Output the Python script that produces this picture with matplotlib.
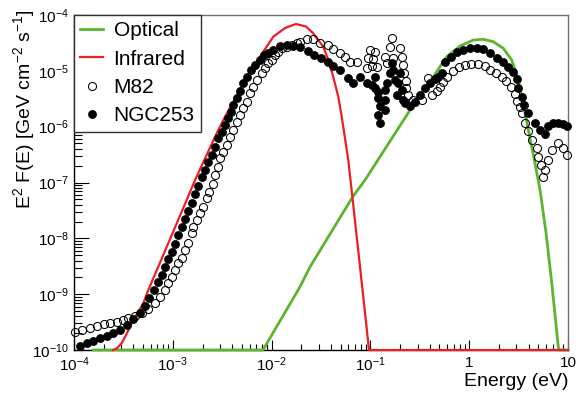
import numpy as np
import matplotlib
matplotlib.use('Agg')
import matplotlib.pyplot as plt
from matplotlib.ticker import FixedLocator, FixedFormatter, LogLocator, NullFormatter

plt.rcParams['font.family'] = ['Liberation Sans', 'DejaVu Sans']
plt.rcParams['mathtext.fontset'] = 'custom'
plt.rcParams['mathtext.rm'] = 'Liberation Sans'
plt.rcParams['mathtext.it'] = 'Liberation Sans:italic'
plt.rcParams['mathtext.bf'] = 'Liberation Sans:bold'
plt.rcParams['mathtext.default'] = 'regular'

# ---- data (log10 of energy in eV, log10 of E^2 F(E) in GeV cm^-2 s^-1) ----
optical_logE = [-3.805, -2.087, -1.713, -1.611, -1.179, -1.055, -0.599, -0.531, -0.363, -0.228,
                -0.093, 0.042, 0.143, 0.244, 0.345, 0.43, 0.484, 0.534, 0.595, 0.656, 0.717,
                0.777, 0.838, 0.902, 0.909, 1.0]
optical_logF = [-10, -10, -8.869, -8.511, -7.256, -6.957, -5.703, -5.493, -5.106, -4.747,
                -4.556, -4.448, -4.435, -4.478, -4.597, -4.806, -5.093, -5.47, -6.025, -6.563,
                -7.136, -7.889, -8.839, -9.95, -10, -10]

infrared_logE = [-3.605, -3.565, -3.517, -3.464, -3.40, -3.30, -3.248, -2.86, -2.775, -2.556,
                 -2.489, -2.252, -1.983, -1.864, -1.753, -1.652, -1.578, -1.477, -1.426, -1.376,
                 -1.325, -1.29, -1.224, -1.179, -1.105, -1.021, -1.014, 1.0]
infrared_logF = [-10.0, -9.968, -9.878, -9.699, -9.466, -9.167, -8.928, -7.315, -6.957, -6.12,
                 -5.882, -5.106, -4.389, -4.233, -4.161, -4.206, -4.33, -4.568, -4.806, -5.106,
                 -5.464, -5.823, -6.599, -7.315, -8.511, -9.884, -10.0, -10.0]

m82_logE = [-3.99, -3.92, -3.84, -3.77, -3.70, -3.636, -3.568, -3.50, -3.45, -3.383,
            -3.315, -3.248, -3.18, -3.13, -3.079, -3.046, -3.011, -2.978, -2.944, -2.91,
            -2.877, -2.843, -2.809, -2.793, -2.758, -2.725, -2.691, -2.657, -2.631, -2.596,
            -2.573, -2.54, -2.522, -2.489, -2.454, -2.421, -2.388, -2.353, -2.32, -2.293,
            -2.252, -2.219, -2.185, -2.151, -2.10, -2.067, -2.033, -1.999, -1.966, -1.932,
            -1.898, -1.847, -1.797, -1.746, -1.713, -1.645, -1.578, -1.51, -1.426, -1.376,
            -1.308, -1.257, -1.207, -1.139,
            -1.037, -1.021, -1.004, -0.987, -0.971, -0.953, -0.936, -0.852, -0.835, -0.80,
            -0.784, -0.767, -0.70, -0.683, -0.667, -0.655, -0.64, -0.635, -0.616, -0.566,
            -0.481, -0.414, -0.38, -0.329, -0.296, -0.262, -0.22, -0.164, -0.108, -0.042,
            0.023, 0.089, 0.155, 0.211, 0.271, 0.329, 0.372, 0.423, 0.459, 0.484,
            0.514, 0.531, 0.565, 0.598, 0.633, 0.691, 0.70, 0.722, 0.767, 0.75,
            0.80, 0.835, 0.902, 0.952, 0.987]
m82_logF = [-9.68, -9.65, -9.60, -9.57, -9.54, -9.525, -9.50, -9.466, -9.435, -9.394,
            -9.346, -9.265, -9.167, -9.048, -8.928, -8.808, -8.69, -8.57, -8.45, -8.36,
            -8.21, -8.09, -7.91, -7.79, -7.67, -7.55, -7.435, -7.285, -7.167, -7.03,
            -6.867, -6.72, -6.568, -6.45, -6.33, -6.18, -6.06, -5.91, -5.79, -5.67,
            -5.554, -5.403, -5.285, -5.165, -5.045, -4.955, -4.866, -4.806, -4.717, -4.658,
            -4.597, -4.568, -4.538, -4.496, -4.478, -4.435, -4.435, -4.496, -4.538, -4.615,
            -4.686, -4.747, -4.837, -4.837,
            -4.955, -4.776, -4.633, -4.914, -4.794, -4.668, -4.927, -4.747, -4.866, -4.568,
            -4.407, -4.776, -4.597, -4.747, -4.896, -5.039, -5.183, -5.308, -5.434, -5.523,
            -5.523, -5.134, -5.434, -5.362, -5.285, -5.195, -5.106, -5.004, -4.932, -4.896,
            -4.878, -4.878, -4.914, -4.986, -5.045, -5.106, -5.183, -5.29, -5.416, -5.541,
            -5.649, -5.762, -5.941, -6.079, -6.24, -6.389, -6.54, -6.688, -6.778, -6.898,
            -6.599, -6.419, -6.30, -6.375, -6.509]

ngc253_logE = [-3.939, -3.865, -3.805, -3.737, -3.669, -3.602, -3.534, -3.467, -3.40, -3.332,
               -3.281, -3.236, -3.19, -3.147, -3.112, -3.079, -3.046, -3.011, -2.978, -2.944,
               -2.91, -2.877, -2.843, -2.809, -2.775, -2.745, -2.707, -2.674, -2.641, -2.606,
               -2.573, -2.54, -2.505, -2.472, -2.438, -2.411, -2.388, -2.347, -2.32, -2.286,
               -2.246, -2.212, -2.168, -2.117, -2.077, -2.033, -1.981, -1.915, -1.847, -1.78,
               -1.713, -1.629, -1.571, -1.5, -1.429, -1.376, -1.308, -1.224, -1.173, -1.105,
               -1.037, -0.987, -0.953, -0.953, -0.92, -0.92, -0.903, -0.852, -0.852, -0.92,
               -0.903, -0.852, -0.835, -0.80, -0.784, -0.768, -0.751, -0.70, -0.718, -0.734,
               -0.683, -0.667, -0.65, -0.599, -0.549, -0.498, -0.447, -0.397, -0.346, -0.311,
               -0.278, -0.245, -0.189, -0.127, -0.06, 0.008, 0.076, 0.143, 0.211, 0.278,
               0.345, 0.396, 0.446, 0.481, 0.497, 0.531, 0.555, 0.598, 0.666, 0.717,
               0.767, 0.80, 0.851, 0.902, 0.952, 0.987]
ngc253_logF = [-9.927, -9.866, -9.837, -9.794, -9.753, -9.699, -9.636, -9.556, -9.453, -9.332,
               -9.215, -9.077, -8.928, -8.78, -8.66, -8.522, -8.378, -8.242, -8.104, -7.943,
               -7.794, -7.661, -7.507, -7.375, -7.208, -7.056, -6.898, -6.778, -6.629, -6.509,
               -6.36, -6.21, -6.091, -5.971, -5.851, -5.733, -5.613, -5.493, -5.357, -5.224,
               -5.106, -4.986, -4.896, -4.806, -4.717, -4.686, -4.627, -4.556, -4.538, -4.547,
               -4.568, -4.651, -4.711, -4.771, -4.837, -4.905, -4.986, -5.134, -5.219, -5.102,
               -5.21, -5.254, -5.111, -5.314, -5.375, -5.493, -5.631, -5.523, -5.703, -5.792,
               -5.93, -5.344, -5.224, -5.045, -4.866, -4.986, -5.165, -5.045, -5.224, -5.434,
               -5.344, -5.523, -5.582, -5.622, -5.554, -5.434, -5.314, -5.224, -5.147, -5.106,
               -5.045, -4.837, -4.753, -4.658, -4.627, -4.597, -4.591, -4.615, -4.686, -4.767,
               -4.837, -4.927, -5.016, -5.147, -5.314, -5.47, -5.613, -5.762, -5.935, -6.061,
               -6.133, -5.98, -5.93, -5.93, -5.959, -5.989]

x_ticks = [1e-4, 1e-3, 1e-2, 1e-1, 1, 10]
x_ticklabels = ['$10^{-4}$', '$10^{-3}$', '$10^{-2}$', '$10^{-1}$', '1', '10']
y_ticks = [1e-10, 1e-9, 1e-8, 1e-7, 1e-6, 1e-5, 1e-4]
y_ticklabels = ['$10^{-10}$', '$10^{-9}$', '$10^{-8}$', '$10^{-7}$', '$10^{-6}$', '$10^{-5}$', '$10^{-4}$']

GREEN = '#5bb52f'
RED = '#ee1d24'

fig = plt.figure(figsize=(5.78, 3.94), dpi=100)
ax = fig.add_axes([74 / 578, 1 - 350 / 394, 494 / 578, 335 / 394])
ax.set_xscale('log')
ax.set_yscale('log')

ax.plot(10 ** np.array(optical_logE), 10 ** np.array(optical_logF), color=GREEN, lw=2.0,
        label='Optical', clip_on=False, zorder=3, solid_joinstyle='round')
ax.plot(10 ** np.array(infrared_logE), 10 ** np.array(infrared_logF), color=RED, lw=1.6,
        label='Infrared', clip_on=False, zorder=4, solid_joinstyle='round')
ax.plot(10 ** np.array(m82_logE), 10 ** np.array(m82_logF), ls='none', marker='o', ms=5.8,
        mfc='none', mec='black', mew=0.75, label='M82', clip_on=False, zorder=5)
ax.plot(10 ** np.array(ngc253_logE), 10 ** np.array(ngc253_logF), ls='none', marker='o', ms=5.8,
        mfc='black', mec='black', mew=0.5, label='NGC253', clip_on=False, zorder=6)

ax.set_xlim(1e-4, 10)
ax.set_ylim(1e-10, 1e-4)

ax.xaxis.set_major_locator(FixedLocator(x_ticks))
ax.xaxis.set_major_formatter(FixedFormatter(x_ticklabels))
ax.xaxis.set_minor_locator(LogLocator(base=10, subs=np.arange(2, 10), numticks=30))
ax.xaxis.set_minor_formatter(NullFormatter())
ax.yaxis.set_major_locator(FixedLocator(y_ticks))
ax.yaxis.set_major_formatter(FixedFormatter(y_ticklabels))
ax.yaxis.set_minor_locator(LogLocator(base=10, subs=np.arange(2, 10), numticks=30))
ax.yaxis.set_minor_formatter(NullFormatter())

ax.tick_params(axis='both', which='both', direction='in', top=False, right=False, color='black')
ax.tick_params(axis='y', which='major', length=10.8, width=0.8, labelsize=11, pad=4)
ax.tick_params(axis='y', which='minor', length=5.4, width=0.8)
ax.tick_params(axis='x', which='major', length=7.2, width=0.8, labelsize=11, pad=4)
ax.tick_params(axis='x', which='minor', length=4.0, width=0.8)

for s in ['left', 'bottom']:
    ax.spines[s].set_color('black')
    ax.spines[s].set_linewidth(1.0)
for s in ['top', 'right']:
    ax.spines[s].set_color('#707070')
    ax.spines[s].set_linewidth(1.0)

ax.set_ylabel(r'E$^{2}$ F(E) [GeV cm$^{-2}$ s$^{-1}$]', fontsize=14, loc='top')
ax.yaxis.set_label_coords(-0.075, 1.015)
ax.set_xlabel('Energy (eV)', fontsize=14, loc='right')
ax.xaxis.set_label_coords(1.0, -0.068)

leg = ax.legend(loc='upper left', bbox_to_anchor=(0, 1), borderaxespad=0, fontsize=15,
                frameon=True, fancybox=False, framealpha=1, edgecolor='#303030',
                borderpad=0.3, labelspacing=0.45, handlelength=1.1, handletextpad=0.5,
                numpoints=1)
leg.get_frame().set_linewidth(1.0)
leg.set_zorder(10)

fig.savefig('out.png', dpi=100)
